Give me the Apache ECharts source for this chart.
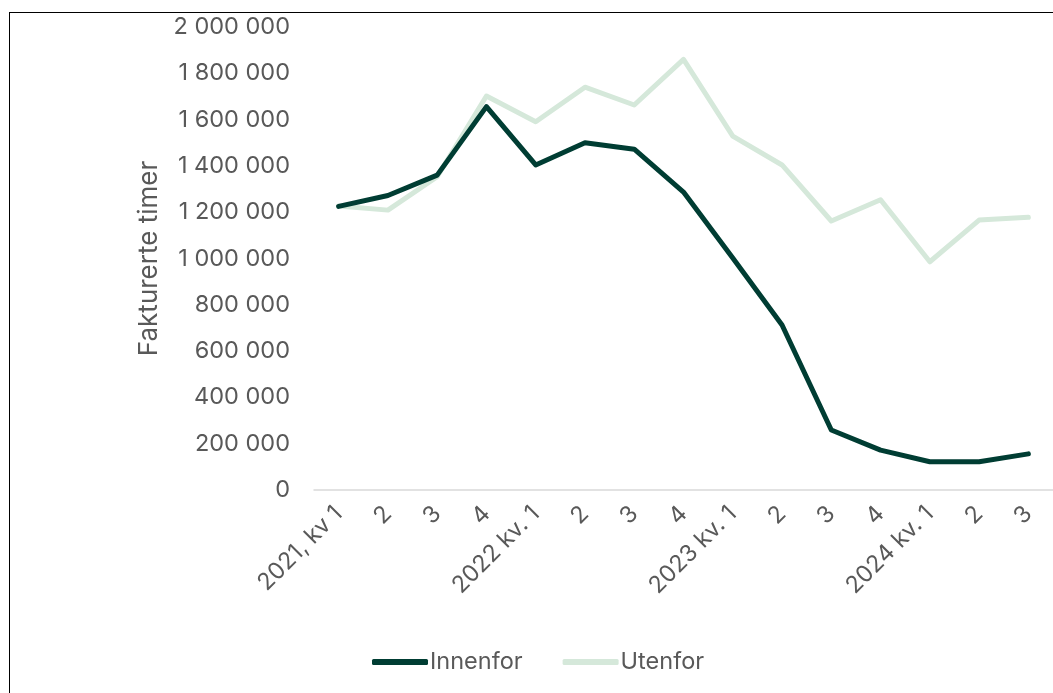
<!DOCTYPE html>
<html>
<head>
<meta charset="utf-8">
<script src="https://cdn.jsdelivr.net/npm/echarts@6/dist/echarts.min.js"></script>
<style>
  html, body { margin: 0; padding: 0; background: #fff; overflow: hidden; }
  #chart { width: 1053px; height: 693px; position: absolute; left: 0; top: 0; }
  #frame { position: absolute; left: 9px; top: 12px; width: 1200px; height: 900px; border: 1.5px solid #000; pointer-events: none; box-sizing: border-box; }
</style>
</head>
<body>
<div id="chart"></div>
<div id="frame"></div>
<script>
const categories = ['2021, kv 1', '2', '3', '4', '2022 kv. 1', '2', '3', '4', '2023 kv. 1', '2', '3', '4', '2024 kv. 1', '2', '3'];
const innenfor = [1225000, 1272000, 1360000, 1656000, 1404000, 1500000, 1472000, 1287000, 1002000, 713000, 259000, 172000, 122000, 122000, 156000];
const utenfor = [1227000, 1209000, 1353000, 1702000, 1591000, 1740000, 1663000, 1860000, 1529000, 1404000, 1162000, 1254000, 986000, 1166000, 1178000];
const seriesNames = ['Innenfor', 'Utenfor'];
const yAxisName = 'Fakturerte timer';

const FONT = 'Inter, "Open Sans", sans-serif';
const TXT = '#595959';

function fmt(v) {
  return String(Math.round(v)).replace(/\B(?=(\d{3})+(?!\d))/g, ' ');
}

const chart = echarts.init(document.getElementById('chart'), null, { renderer: 'canvas' });
chart.setOption({
  animation: false,
  textStyle: { fontFamily: FONT },
  grid: { left: 314, right: 0, top: 27, bottom: 203, containLabel: false },
  legend: {
    data: seriesNames,
    bottom: 14,
    left: 367,
    icon: 'roundRect',
    itemWidth: 56,
    itemHeight: 6,
    itemGap: 40,
    textStyle: { fontFamily: FONT, fontSize: 23.5, color: TXT, padding: [0, 0, 0, -3] }
  },
  xAxis: {
    type: 'category',
    data: categories,
    boundaryGap: true,
    axisLine: { lineStyle: { color: '#d9d9d9', width: 1.5 } },
    axisTick: { show: false },
    axisLabel: { rotate: 45, fontSize: 23.5, color: TXT, fontFamily: FONT, margin: 20, interval: 0 }
  },
  yAxis: {
    type: 'value',
    min: 0,
    max: 2000000,
    interval: 200000,
    name: yAxisName,
    nameLocation: 'middle',
    nameGap: 152,
    nameTextStyle: { fontSize: 26, color: TXT, fontFamily: FONT },
    splitLine: { show: false },
    axisLine: { show: false },
    axisTick: { show: false },
    axisLabel: { fontSize: 23.5, color: TXT, fontFamily: FONT, margin: 24, formatter: fmt }
  },
  series: [
    {
      name: seriesNames[1],
      type: 'line',
      data: utenfor,
      showSymbol: false,
      symbol: 'none',
      itemStyle: { color: '#d5e8da' },
      lineStyle: { color: '#d5e8da', width: 5, cap: 'round', join: 'round' },
      z: 2
    },
    {
      name: seriesNames[0],
      type: 'line',
      data: innenfor,
      showSymbol: false,
      symbol: 'none',
      itemStyle: { color: '#003d33' },
      lineStyle: { color: '#003d33', width: 5, cap: 'round', join: 'round' },
      z: 3
    }
  ]
});
</script>
</body>
</html>
